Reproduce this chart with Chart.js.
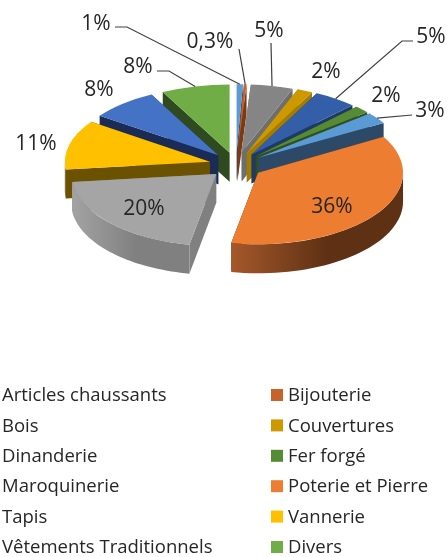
<!DOCTYPE html>
<html>
<head>
<meta charset="utf-8">
<title>Répartition</title>
<script src="https://cdn.jsdelivr.net/npm/chart.js@4"></script>
<style>
  html, body { margin: 0; padding: 0; background: #fff; }
  canvas { display: block; }
</style>
</head>
<body>
<canvas id="pie" width="448" height="557"></canvas>
<script>
const categories = ['Articles chaussants', 'Bijouterie', 'Bois', 'Couvertures', 'Dinanderie', 'Fer forgé',
    'Maroquinerie', 'Poterie et Pierre', 'Tapis', 'Vannerie', 'Vêtements Traditionnels', 'Divers'];
// the printed labels are rounded and add up to more than 100, so slices are estimated from the picture
const shares = [0.7, 0.3, 4.7, 1.7, 4.8, 1.7, 2.7, 36.2, 20.2, 11.5, 7.6, 7.6];
const shareLabels = ['1%', '0,3%', '5%', '2%', '5%', '2%', '3%', '36%', '20%', '11%', '8%', '8%'];

const topColors = ['#5b9bd5', '#c6622a', '#858585', '#cc9a00', '#335ea8', '#558b34',
    '#5b9bd5', '#ed7d31', '#a5a5a5', '#ffc000', '#4472c4', '#70ad47'];
const wallColors = ['#2c4a68', '#7a3a14', '#6e6e6e', '#a37c00', '#1f3a66', '#2f4f1c',
    '#2c4a68', '#5f3114', '#808080', '#6a5200', '#1a2c55', '#2f4a1f'];
const curveLightColors = ['#2c4a68', '#7a3a14', '#6e6e6e', '#a37c00', '#1f3a66', '#2f4f1c',
    '#2c4a68', '#a5582b', '#a3a3a3', '#6a5200', '#1a2c55', '#2f4a1f'];

// label placement, by slice
const labelSpots = [[96, 24], [210, 42], [269, 31], [326, 72], [431, 37], [386, 96],
    [430, 111], [332, 207], [144, 209], [36, 144], [99, 90], [138, 67]];
const leaderElbows = {
    0: [[115, 27], [127, 27]],
    1: [[239, 49]],
    2: [[271, 43]],
    4: [[413, 41], [402, 41]],
    6: [[412, 115]],
    11: [[157, 71], [169, 71]]
};

const explode = 27;
const depth = 29;
const squashMid = 0.485;
const squashTilt = 0.015;

// where a slice ends up on the page once tilted and pulled out
function project(arc) {
    const mid = (arc.startAngle + arc.endAngle) / 2;
    const sy = squashMid + squashTilt * Math.sin(mid);
    return {
        mid: mid,
        sy: sy,
        x: arc.x + Math.cos(mid) * explode,
        y: arc.y + Math.sin(mid) * explode * sy
    };
}

function rimPoint(arc, p, angle, drop) {
    return [p.x + Math.cos(angle) * arc.outerRadius, p.y + Math.sin(angle) * arc.outerRadius * p.sy + drop];
}

function fillPoly(ctx, pts, fill) {
    ctx.beginPath();
    pts.forEach((pt, i) => i ? ctx.lineTo(pt[0], pt[1]) : ctx.moveTo(pt[0], pt[1]));
    ctx.closePath();
    ctx.fillStyle = fill;
    ctx.fill();
}

function drawSlice(ctx, arc, index) {
    const p = project(arc);

    // the two flat walls
    [arc.startAngle, arc.endAngle].forEach(angle => {
        const rim = rimPoint(arc, p, angle, 0);
        fillPoly(ctx, [[p.x, p.y], rim, [rim[0], rim[1] + depth], [p.x, p.y + depth]], wallColors[index]);
    });

    // curved wall, only the part that faces us
    const from = Math.max(arc.startAngle, 0);
    const to = Math.min(arc.endAngle, Math.PI);
    const from2 = Math.max(arc.startAngle, 2 * Math.PI);
    const to2 = Math.min(arc.endAngle, 3 * Math.PI);
    [[from, to], [from2, to2]].forEach(range => {
        if (range[1] <= range[0]) return;
        const upper = [], lower = [];
        for (let i = 0; i <= 40; i++) {
            const a = range[0] + (range[1] - range[0]) * i / 40;
            upper.push(rimPoint(arc, p, a, 0));
            lower.unshift(rimPoint(arc, p, a, depth));
        }
        const xs = upper.map(pt => pt[0]);
        const grad = ctx.createLinearGradient(Math.min(...xs), 0, Math.max(...xs), 0);
        grad.addColorStop(0, curveLightColors[index]);
        grad.addColorStop(0.55, wallColors[index]);
        grad.addColorStop(1, wallColors[index]);
        fillPoly(ctx, upper.concat(lower), grad);
    });

    // top face is the chart's own arc element, squashed
    ctx.save();
    ctx.translate(p.x, p.y);
    ctx.scale(1, p.sy);
    ctx.translate(-arc.x, -arc.y);
    arc.draw(ctx);
    ctx.restore();
}

const tiltedPie = {
    id: 'tiltedPie',
    beforeDatasetDraw(chart, args) {
        const ctx = chart.ctx;
        const arcs = chart.getDatasetMeta(args.index).data;
        const order = arcs.map((arc, i) => i).sort((a, b) =>
            Math.sin((arcs[a].startAngle + arcs[a].endAngle) / 2) - Math.sin((arcs[b].startAngle + arcs[b].endAngle) / 2));
        order.forEach(i => drawSlice(ctx, arcs[i], i));
        return false;
    },
    afterDatasetsDraw(chart) {
        const ctx = chart.ctx;
        const arcs = chart.getDatasetMeta(0).data;
        ctx.save();

        // leader lines
        ctx.strokeStyle = '#404040';
        ctx.lineWidth = 1.2;
        Object.keys(leaderElbows).forEach(key => {
            const arc = arcs[key];
            const p = project(arc);
            const end = rimPoint(arc, p, p.mid, 0);
            ctx.beginPath();
            leaderElbows[key].forEach((pt, i) => i ? ctx.lineTo(pt[0], pt[1]) : ctx.moveTo(pt[0], pt[1]));
            ctx.lineTo(end[0], end[1]);
            ctx.stroke();
        });

        // percent labels
        ctx.font = '21px "Open Sans", sans-serif';
        ctx.fillStyle = '#262626';
        ctx.textAlign = 'center';
        ctx.textBaseline = 'middle';
        shareLabels.forEach((text, i) => {
            ctx.fillText(text, labelSpots[i][0], labelSpots[i][1]);
        });

        // legend, the left column's swatches fall off the edge of the picture
        ctx.font = '18.5px "Open Sans", sans-serif';
        ctx.textAlign = 'left';
        categories.forEach((name, i) => {
            const col = i % 2;
            const y = 396 + 30.4 * Math.floor(i / 2);
            const x = col ? 288 : 2;
            ctx.fillStyle = topColors[i];
            ctx.fillRect(x - 17, y - 7, 12, 12);
            ctx.fillStyle = '#262626';
            ctx.fillText(name, x, y);
        });
        ctx.restore();
    }
};

new Chart(document.getElementById('pie').getContext('2d'), {
    type: 'pie',
    data: {
        labels: categories,
        datasets: [{
            data: shares,
            backgroundColor: topColors,
            borderWidth: 0,
            rotation: 0
        }]
    },
    options: {
        responsive: false,
        animation: false,
        layout: { padding: { left: 91, right: 67, top: 20, bottom: 247 } },
        plugins: {
            legend: { display: false },
            tooltip: { enabled: false }
        }
    },
    plugins: [tiltedPie]
});
</script>
</body>
</html>
